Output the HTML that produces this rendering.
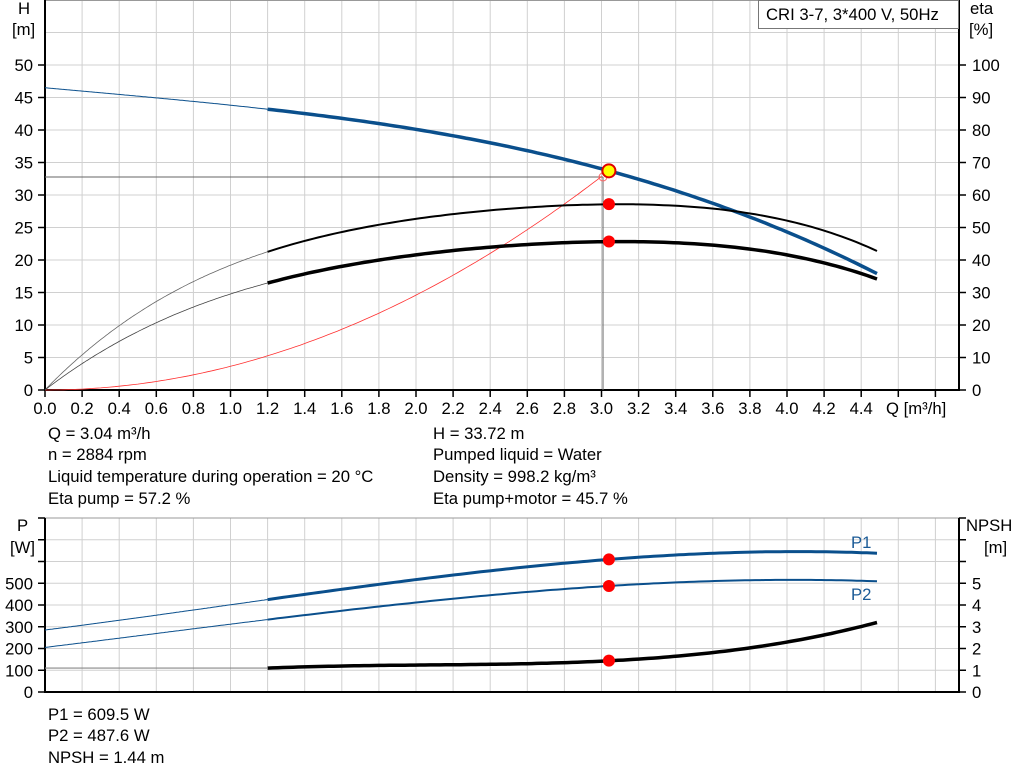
<!DOCTYPE html>
<html><head><meta charset="utf-8"><style>
html,body{margin:0;padding:0;background:#fff}
svg{display:block;font-family:"Liberation Sans",sans-serif}
</style></head><body>
<svg id="s" width="1024" height="781" viewBox="0 0 1024 781" xmlns="http://www.w3.org/2000/svg">
<g id="grid" stroke="#d0d0d0" stroke-width="1"></g>
<g id="axes"></g>
<g id="curves" fill="none"></g>
<g id="txt" font-size="16.7" fill="#000"></g>
</svg>
<script>
var NS="http://www.w3.org/2000/svg";
function el(p,t,a,txt){var e=document.createElementNS(NS,t);for(var k in a)e.setAttribute(k,a[k]);if(txt!=null)e.textContent=txt;document.getElementById(p).appendChild(e);return e;}
function X(q){return 45+q*185.5;}
function Y(h){return 390-6.5*h;}
function Ye(e){return 390-3.25*e;}
function Yp(p){return 692-0.2175*p;}
function Yn(n){return 692-21.75*n;}
for(var i=1;i<=24;i++){var x=45+i*37.1;el('grid','line',{x1:x,y1:0,x2:x,y2:390});el('grid','line',{x1:x,y1:518,x2:x,y2:692});}
for(var h=5;h<=60;h+=5){el('grid','line',{x1:45,y1:Y(h),x2:959,y2:Y(h)});}
for(var p=100;p<=800;p+=100){el('grid','line',{x1:45,y1:Yp(p),x2:959,y2:Yp(p)});}
el('axes','rect',{x:45,y:0.5,width:914,height:389.5,fill:'none',stroke:'#999','stroke-width':1});
el('axes','rect',{x:45,y:518,width:914,height:174,fill:'none',stroke:'#999','stroke-width':1});
var A={stroke:'#000','stroke-width':2};
el('axes','line',Object.assign({x1:45,y1:0,x2:45,y2:391},A));
el('axes','line',Object.assign({x1:959,y1:0,x2:959,y2:391},A));
el('axes','line',Object.assign({x1:44,y1:390,x2:960,y2:390},A));
el('axes','line',Object.assign({x1:45,y1:518,x2:45,y2:693},A));
el('axes','line',Object.assign({x1:959,y1:518,x2:959,y2:693},A));
el('axes','line',Object.assign({x1:44,y1:692,x2:960,y2:692},A));
for(var h=0;h<=50;h+=5){el('axes','line',{x1:38,y1:Y(h),x2:45,y2:Y(h),stroke:'#000','stroke-width':1.5});el('txt','text',{x:33,y:Y(h)+6,'text-anchor':'end'},String(h));}
for(var e=0;e<=100;e+=10){el('axes','line',{x1:959,y1:Ye(e),x2:966,y2:Ye(e),stroke:'#000','stroke-width':1.5});el('txt','text',{x:972,y:Ye(e)+6},String(e));}
for(var i=0;i<=24;i++){var x=45+i*37.1;el('axes','line',{x1:x,y1:390,x2:x,y2:397,stroke:'#000','stroke-width':1.5});if(i<=22)el('txt','text',{x:x,y:414,'text-anchor':'middle'},(i*0.2).toFixed(1));}
el('txt','text',{x:886,y:414},'Q [m³/h]');
el('txt','text',{x:18,y:14},'H');el('txt','text',{x:12,y:35},'[m]');
el('txt','text',{x:970,y:14},'eta');el('txt','text',{x:969,y:35},'[%]');
for(var p=0;p<=800;p+=100){el('axes','line',{x1:38,y1:Yp(p),x2:45,y2:Yp(p),stroke:'#000','stroke-width':1.5});if(p<=500)el('txt','text',{x:33,y:Yp(p)+6,'text-anchor':'end'},String(p));}
for(var n=0;n<=8;n++){el('axes','line',{x1:959,y1:Yn(n),x2:966,y2:Yn(n),stroke:'#000','stroke-width':1.5});if(n<=5)el('txt','text',{x:972,y:Yn(n)+6},String(n));}
el('txt','text',{x:17,y:531},'P');el('txt','text',{x:10,y:553},'[W]');
el('txt','text',{x:966,y:531},'NPSH');el('txt','text',{x:984,y:553},'[m]');
el('axes','rect',{x:758.5,y:0.5,width:200,height:28,fill:'#fff',stroke:'#777','stroke-width':1});
el('txt','text',{x:766,y:20},'CRI 3-7, 3*400 V, 50Hz');
function lag(pts){return function(q){var s=0;for(var i=0;i<pts.length;i++){var t=pts[i][1];for(var j=0;j<pts.length;j++)if(j!=i)t*=(q-pts[j][0])/(pts[i][0]-pts[j][0]);s+=t;}return s;};}
function polyfit(pts,deg){var n=deg+1,M=[],b=[];for(var i=0;i<n;i++){M.push(new Array(n).fill(0));b.push(0);}
pts.forEach(function(p){var w=p[2]||1;for(var i=0;i<n;i++){b[i]+=w*p[1]*Math.pow(p[0],i);for(var j=0;j<n;j++)M[i][j]+=w*Math.pow(p[0],i+j);}});
for(var c=0;c<n;c++){var piv=c;for(var r=c+1;r<n;r++)if(Math.abs(M[r][c])>Math.abs(M[piv][c]))piv=r;var t=M[c];M[c]=M[piv];M[piv]=t;t=b[c];b[c]=b[piv];b[piv]=t;
for(var r=c+1;r<n;r++){var f=M[r][c]/M[c][c];for(var k=c;k<n;k++)M[r][k]-=f*M[c][k];b[r]-=f*b[c];}}
var co=new Array(n).fill(0);for(var r=n-1;r>=0;r--){var s=b[r];for(var k=r+1;k<n;k++)s-=M[r][k]*co[k];co[r]=s/M[r][r];}
return function(q){var s=0;for(var i=0;i<n;i++)s+=co[i]*Math.pow(q,i);return s;};}
function path(f,ym,a,b,attrs){var d='';for(var k=0;k<=120;k++){var q=a+(b-a)*k/120;d+=(k?'L':'M')+X(q).toFixed(1)+' '+ym(f(q)).toFixed(1);}attrs.d=d;el('curves','path',attrs);}
var QE=4.485;
var fH=lag([[0,46.5],[1.2,43.2],[3.04,33.72],[QE,17.9]]);
var fE1=polyfit([[0,0,20],[0.2,11.4],[0.4,20.6],[0.8,34.5],[1.2,42.1,5],[1.6,48.4],[2.0,52.9],[2.4,55.4],[3.04,57.2,20],[3.6,55.2],[4.0,51.3],[4.4,45.2],[QE,42.8,10]],4);
var fE2=polyfit([[0,0,20],[0.2,8.3],[0.4,15.4],[0.8,26.1],[1.2,32.8,5],[1.6,37.6],[2.0,41.3],[2.4,44.1],[3.04,45.7,20],[3.6,44.6],[4.0,40.5],[4.4,35.9],[QE,34.2,10]],4);
var fP1=lag([[0,285],[1.2,425],[3.04,609.5],[QE,638]]);
var fP2=lag([[0,205],[1.2,333],[3.04,487.6],[QE,509]]);
var fN=polyfit([[1.2,1.1,5],[2.0,1.2],[3.04,1.44,10],[3.5,1.72],[3.85,2.05],[4.2,2.6],[QE,3.2,10]],3);
el('curves','line',{x1:45,y1:177,x2:603,y2:177,stroke:'#666','stroke-width':1});
el('curves','line',{x1:603,y1:177,x2:603,y2:390,stroke:'#666','stroke-width':1});
path(function(q){return 3.649*q*q;},Y,0,3.0,{stroke:'#ff3030','stroke-width':0.8});
el('curves','circle',{cx:603,cy:177,r:4,stroke:'#ff6060','stroke-width':1,fill:'none'});
path(fH,Y,0,1.2,{stroke:'#0a4f8c','stroke-width':1});
path(fH,Y,1.2,QE,{stroke:'#0a4f8c','stroke-width':3.5});
path(fE1,Ye,0,1.2,{stroke:'#666','stroke-width':0.8});
path(fE1,Ye,1.2,QE,{stroke:'#000','stroke-width':2});
path(fE2,Ye,0,1.2,{stroke:'#444','stroke-width':0.8});
path(fE2,Ye,1.2,QE,{stroke:'#000','stroke-width':3.5});
path(fP1,Yp,0,1.2,{stroke:'#0a4f8c','stroke-width':1});
path(fP1,Yp,1.2,QE,{stroke:'#0a4f8c','stroke-width':3});
path(fP2,Yp,0,1.2,{stroke:'#0a4f8c','stroke-width':1});
path(fP2,Yp,1.2,QE,{stroke:'#0a4f8c','stroke-width':2});
el('curves','line',{x1:45,y1:Yn(1.1),x2:267,y2:Yn(1.1),stroke:'#888','stroke-width':1.2});
path(fN,Yn,1.2,QE,{stroke:'#000','stroke-width':3.5});
var xo=X(3.04);
[Ye(57.2),Ye(45.7),Yp(609.5),Yp(487.6),Yn(1.44)].forEach(function(v){el('curves','circle',{cx:xo,cy:v,r:6,fill:'#ff0000',stroke:'none'});});
el('curves','circle',{cx:xo,cy:Y(33.72),r:6.5,fill:'#ffff00',stroke:'#e00000','stroke-width':2});
el('txt','text',{x:851,y:548,fill:'#1a5a96'},'P1');
el('txt','text',{x:851,y:600,fill:'#1a5a96'},'P2');
var L=[[48,439,'Q = 3.04 m³/h'],[48,460,'n = 2884 rpm'],[48,482,'Liquid temperature during operation = 20 °C'],[48,504,'Eta pump = 57.2 %'],
[433,439,'H = 33.72 m'],[433,460,'Pumped liquid = Water'],[433,482,'Density = 998.2 kg/m³'],[433,504,'Eta pump+motor = 45.7 %'],
[48,720,'P1 = 609.5 W'],[48,741,'P2 = 487.6 W'],[48,763,'NPSH = 1.44 m']];
L.forEach(function(t){el('txt','text',{x:t[0],y:t[1]},t[2]);});
</script>
</body></html>
